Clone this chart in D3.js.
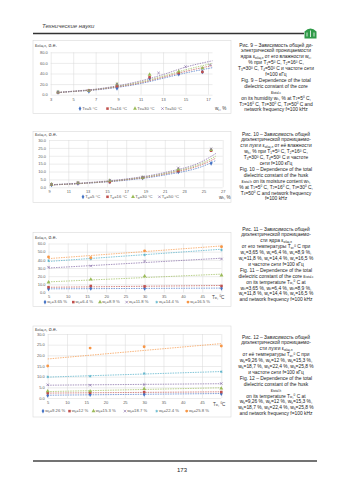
<!DOCTYPE html>
<html>
<head>
<meta charset="utf-8">
<style>
    body { margin: 0; background: #fff; }
    svg { display: block; font-family: "Liberation Sans", Arial, sans-serif; }
    .axis line { stroke: #d9d9d9; stroke-width: 0.5; }
    .axis text { fill: #595959; font-size: 4px; font-family: "Liberation Sans", Arial, sans-serif; }
    .trend { fill: none; stroke-width: 0.7; stroke-dasharray: 1.5, 1; }
    .cap { font-size: 5px; fill: #222; text-anchor: middle; }
</style>
</head>
<body>
<svg id="page" width="350" height="495"></svg>

<script src="https://d3js.org/d3.v7.min.js"></script>
<script>
// Excel palette, one colour per series
const colors = ["#4472C4", "#C0504D", "#9BBB59", "#8064A2", "#4BACC6", "#F79646"]

// Fig. 9: core permittivity vs moisture wc, %
const f9Names = ["T_{w}=5 °C", "T_{w}=16 °C", "T_{w}=30 °C", "T_{w}=50 °C"]
const f9X = [3.65, 6.4, 8.9, 11.8, 14.4, 16.5]
const f9X50 = [3.65, 6.4, 8.9, 12.6, 15.0, 17.2]
const f9T5 = [4.5, 6.5, 12, 31, 39, 43]
const f9T16 = [4.5, 8, 16, 33, 41, 43]
const f9T30 = [5, 7.5, 20, 38, 44, 50]
const f9T50 = [5, 8, 20, 41, 53, 56]
const f9TrendX = [3.65, 5, 7, 9, 11, 13, 15, 17.4]
const f9TrendT5 = [4, 6, 9, 14, 21, 31, 41, 51]
const f9TrendT16 = [4, 6.2, 9.5, 15, 22.5, 33, 44, 55]
const f9TrendT30 = [4.2, 6.4, 10, 16, 24, 35, 47, 59]
const f9TrendT50 = [4.3, 6.7, 10.5, 17, 26, 38, 52, 64]
const f9XTicks = [3, 5, 7, 9, 11, 13, 15, 17]
const f9YTicks = [0, 20, 40, 60, 80]

// Fig. 10: husk permittivity vs moisture wh, %
const f10Names = ["T_{w}=5 °C", "T_{w}=16 °C", "T_{w}=30 °C", "T_{w}=50 °C"]
const f10X = [9.26, 12, 15.3, 18.7, 22.4, 25.8]
const f10T5 = [1.5, 2.5, 3.5, 6.0, 9.8, 15.2]
const f10T16 = [1.8, 2.7, 3.3, 6.0, 10.3, 23.2]
const f10T30 = [1.9, 2.8, 4.3, 6.2, 11.4, 23.8]
const f10T50 = [2.0, 2.9, 4.5, 6.6, 12.3, 24.4]
const f10TrendX = [9.26, 13, 17, 21, 25, 26.3]
const f10TrendT5 = [1.5, 2.6, 4.5, 7.8, 13.5, 17]
const f10TrendT16 = [1.5, 2.7, 4.8, 8.4, 14.8, 18.5]
const f10TrendT30 = [1.6, 2.8, 5.0, 8.8, 15.7, 19.8]
const f10TrendT50 = [1.7, 3.0, 5.3, 9.4, 16.8, 21.5]
const f10XTicks = [9, 11, 13, 15, 17, 19, 21, 23, 25, 27]
const f10YTicks = [0, 5, 10, 15, 20, 25, 30]

// Fig. 11: core permittivity vs temperature
const f11Names = ["w_{c}=3.65 %", "w_{c}=6.4 %", "w_{c}=8.9 %", "w_{c}=11.8 %", "w_{c}=14.4 %", "w_{c}=16.5 %"]
const f11T = [5, 16, 30, 50]
const f11W365 = [4.5, 5, 5, 5.2]
const f11W64 = [6.5, 8, 7.5, 8]
const f11W89 = [12.5, 16, 20, 21]
const f11W118 = [31, 32.5, 38.5, 41]
const f11W144 = [39, 41, 46, 52]
const f11W165 = [43.5, 42.5, 51, 56]
const f11TrendT = [5, 50]
const f11Trend365 = [4.5, 5.4]
const f11Trend64 = [6.4, 8.6]
const f11Trend89 = [13, 22.5]
const f11Trend118 = [30, 42]
const f11Trend144 = [38, 53]
const f11Trend165 = [41.5, 57]
const f11XTicks = [5, 10, 15, 20, 25, 30, 35, 40, 45, 50]
const f11YTicks = [0, 10, 20, 30, 40, 50, 60]

// Fig. 12: husk permittivity vs temperature
const f12Names = ["w_{h}=9.26 %", "w_{h}=12 %", "w_{h}=15.3 %", "w_{h}=18.7 %", "w_{h}=22.4 %", "w_{h}=25.8 %"]
const f12T = [5, 16, 30, 50]
const f12W926 = [1.2, 1.6, 1.7, 2.0]
const f12W12 = [2.3, 2.5, 2.8, 2.8]
const f12W153 = [3.2, 3.2, 4.3, 4.5]
const f12W187 = [6.2, 6.0, 6.3, 6.8]
const f12W224 = [9.9, 10.2, 11.5, 12.3]
const f12W258 = [15, 23.4, 24, 24.4]
const f12TrendT = [5, 50]
const f12Trend926 = [1.3, 2.1]
const f12Trend12 = [2.3, 2.9]
const f12Trend153 = [3.0, 4.8]
const f12Trend187 = [6.0, 6.7]
const f12Trend224 = [9.8, 12.4]
const f12Trend258 = [18.3, 25.5]
const f12XTicks = [5, 10, 15, 20, 25, 30, 35, 40, 45, 50]
const f12YTicks = [0, 5, 10, 15, 20, 25, 30]

// captions
const cap9 = [
    "Рис. 9 – Зависимость общей ди-",
    "электрической проницаемости",
    "ядра ε_{общ.я} от его влажности w_{с},",
    "% при T_{1}=5^{0} C, T_{2}=16^{0} C,",
    "T_{3}=30^{0} C, T_{4}=50^{0} C и частоте сети",
    "f=100 кГц",
    "Fig. 9 – Dependence of the total",
    "dielectric constant of the core",
    "ε_{total.c}",
    "on its humidity w_{c}, % at T_{1}=5^{0} C,",
    "T_{2}=16^{0} C, T_{3}=30^{0} C, T_{4}=50^{0} C and",
    "network frequency f=100 kHz"
]
const cap10 = [
    "Рис. 10 – Зависимость общей",
    "диэлектрической проницаемо-",
    "сти лузги ε_{общ.л} от её влажности",
    "w_{h}, % при T_{1}=5^{0} C, T_{2}=16^{0} C,",
    "T_{3}=30^{0} C, T_{4}=50^{0} C и частоте",
    "сети f=100 кГц",
    "Fig. 10 – Dependence of the total",
    "dielectric constant of the husk",
    "ε_{total.h} on its moisture content w_{h},",
    "% at T_{1}=5^{0} C, T_{2}=16^{0} C, T_{3}=30^{0} C,",
    "T_{4}=50^{0} C and network frequency",
    "f=100 kHz"
]
const cap11 = [
    "Рис. 11 – Зависимость общей",
    "диэлектрической проницаемо-",
    "сти ядра ε_{общ.я}",
    "от его температуры T_{w},^{0} C при",
    "w_{c}=3,65 %, w_{c}=6,4 %, w_{c}=8,9 %,",
    "w_{c}=11,8 %, w_{c}=14,4 %, w_{c}=16,5 %",
    "и частоте сети f=100 кГц",
    "Fig. 11 – Dependence of the total",
    "dielectric constant of the core ε_{total.c}",
    "on its temperature T_{w},^{0} C at",
    "w_{c}=3,65 %, w_{c}=6,4 %, w_{c}=8,9 %,",
    "w_{c}=11,8 %, w_{c}=14,4 %, w_{c}=16,5 %",
    "and network frequency f=100 kHz"
]
const cap12 = [
    "Рис. 12 – Зависимость общей",
    "диэлектрической проницаемо-",
    "сти лузги ε_{общ.л}",
    "от её температуры T_{w},^{0} C при",
    "w_{h}=9,26 %, w_{h}=12 %, w_{h}=15,3 %,",
    "w_{h}=18,7 %, w_{h}=22,4 %, w_{h}=25,8 %",
    "и частоте сети f=100 кГц",
    "Fig. 12 – Dependence of the total",
    "dielectric constant of the husk",
    "ε_{total.h}",
    "on its temperature T_{w},^{0} C at",
    "w_{h}=9,26 %, w_{h}=12 %, w_{h}=15,3 %,",
    "w_{h}=18,7 %, w_{h}=22,4 %, w_{h}=25,8 %",
    "and network frequency f=100 kHz"
]

let svg = d3.select("#page")

// text with _{sub} and ^{sup} parts, shifts kept small so lines do not collide
function rich(text, str, fs) {
    let shift = 0
    str.split(/(_\{[^}]*\}|\^\{[^}]*\})/).forEach(p => {
        if (!p) return
        let s = 0, t = p, f = fs
        if (p[0] == "_") { s = fs * 0.12; t = p.slice(2, -1); f = fs * 0.62 }
        if (p[0] == "^") { s = -fs * 0.3; t = p.slice(2, -1); f = fs * 0.62 }
        text.append("tspan").attr("dy", s - shift).attr("font-size", f).text(t)
        shift = s
    })
}

const symTypes = [d3.symbolDiamond, d3.symbolSquare, d3.symbolTriangle, d3.symbolX, d3.symbolAsterisk, d3.symbolCircle]
const strokeSym = [false, false, false, true, true, false]

function marker(g, i, tx, ty) {
    g.append("path")
        .attr("transform", `translate(${tx},${ty})`)
        .attr("d", d3.symbol().type(symTypes[i]).size(strokeSym[i] ? 5 : 6.5)())
        .attr("fill", strokeSym[i] ? "none" : colors[i])
        .attr("stroke", strokeSym[i] ? colors[i] : "none")
        .attr("stroke-width", 0.6)
}

function chart(c) {
    let g = svg.append("g")
    g.append("rect")
        .attr("x", 33).attr("y", c.top)
        .attr("width", 198).attr("height", c.bottom - c.top)
        .attr("fill", "none").attr("stroke", "#d9d9d9").attr("stroke-width", 0.6)

    let x = d3.scaleLinear().domain(c.xDomain).range([c.left, c.right])
    let y = d3.scaleLinear().domain(c.yDomain).range([c.plotBottom, c.plotTop])

    g.append("g").attr("class", "axis")
        .attr("transform", "translate(0," + c.plotBottom + ")")
        .call(d3.axisBottom(x).tickValues(c.xTicks)
            .tickSize(-(c.plotBottom - c.plotTop)).tickPadding(3)
            .tickFormat(d => d === c.hideTick ? "" : d))
    g.append("g").attr("class", "axis")
        .attr("transform", "translate(" + c.left + ",0)")
        .call(d3.axisLeft(y).tickValues(c.yTicks)
            .tickSize(-(c.right - c.left)).tickPadding(3)
            .tickFormat(d3.format(".1f")))
    g.selectAll(".domain").remove()

    let line = d3.line().x(d => x(d[0])).y(d => y(d[1])).curve(d3.curveMonotoneX)

    c.series.forEach((s, i) => {
        g.append("path")
            .datum(d3.zip(s.tx, s.ty))
            .attr("class", "trend")
            .attr("stroke", colors[i])
            .attr("d", line)
    })
    c.series.forEach((s, i) => {
        s.y.forEach((v, j) => marker(g, i, x(s.x[j]), y(v)))
    })

    // legend
    c.series.forEach((s, i) => {
        marker(g, i, c.legendX[i], c.legendY - 1.2)
        let t = g.append("text")
            .attr("x", c.legendX[i] + 2.2).attr("y", c.legendY)
            .attr("font-size", 4.2).attr("fill", "#595959")
        rich(t, s.name, 4.2)
    })

    let yt = g.append("text").attr("x", 35).attr("y", c.yTitle).attr("font-size", 5).attr("fill", "#404040")
    rich(yt, c.yLabel, 5)
    let xt = g.append("text").attr("x", c.xTitle[0]).attr("y", c.xTitle[1]).attr("font-size", 4.6).attr("fill", "#404040")
    rich(xt, c.xLabel, 4.6)
}

chart({
    top: 40.5, bottom: 113.5, left: 50.7, right: 212.5, plotTop: 52.3, plotBottom: 94.7,
    xDomain: [3, 17.4], yDomain: [0, 80], xTicks: f9XTicks, yTicks: f9YTicks,
    series: [
        { name: f9Names[0], x: f9X, y: f9T5, tx: f9TrendX, ty: f9TrendT5 },
        { name: f9Names[1], x: f9X, y: f9T16, tx: f9TrendX, ty: f9TrendT16 },
        { name: f9Names[2], x: f9X, y: f9T30, tx: f9TrendX, ty: f9TrendT30 },
        { name: f9Names[3], x: f9X50, y: f9T50, tx: f9TrendX, ty: f9TrendT50 }
    ],
    legendX: [80, 107.5, 135, 162.5], legendY: 109.8,
    yLabel: "ε_{общ.я}, о.е.", yTitle: 46.5,
    xLabel: "w_{с}, %", xTitle: [215, 110.3]
})

chart({
    top: 131.5, bottom: 202.5, left: 49, right: 222.7, plotTop: 140, plotBottom: 187.3,
    xDomain: [9, 27], yDomain: [0, 30], xTicks: f10XTicks, yTicks: f10YTicks,
    series: [
        { name: f10Names[0], x: f10X, y: f10T5, tx: f10TrendX, ty: f10TrendT5 },
        { name: f10Names[1], x: f10X, y: f10T16, tx: f10TrendX, ty: f10TrendT16 },
        { name: f10Names[2], x: f10X, y: f10T30, tx: f10TrendX, ty: f10TrendT30 },
        { name: f10Names[3], x: f10X, y: f10T50, tx: f10TrendX, ty: f10TrendT50 }
    ],
    legendX: [83, 107.5, 133, 159.5], legendY: 198,
    yLabel: "ε_{общ.л}, о.е.", yTitle: 135.5,
    xLabel: "w_{h}, %", xTitle: [219, 198.5]
})

chart({
    top: 232.5, bottom: 306.5, left: 48.5, right: 221.5, plotTop: 243.5, plotBottom: 292.5,
    xDomain: [5, 50], yDomain: [0, 60], xTicks: f11XTicks, yTicks: f11YTicks, hideTick: 50,
    series: [
        { name: f11Names[0], x: f11T, y: f11W365, tx: f11TrendT, ty: f11Trend365 },
        { name: f11Names[1], x: f11T, y: f11W64, tx: f11TrendT, ty: f11Trend64 },
        { name: f11Names[2], x: f11T, y: f11W89, tx: f11TrendT, ty: f11Trend89 },
        { name: f11Names[3], x: f11T, y: f11W118, tx: f11TrendT, ty: f11Trend118 },
        { name: f11Names[4], x: f11T, y: f11W144, tx: f11TrendT, ty: f11Trend144 },
        { name: f11Names[5], x: f11T, y: f11W165, tx: f11TrendT, ty: f11Trend165 }
    ],
    legendX: [45, 73.3, 100, 126.7, 156.7, 188], legendY: 303.3,
    yLabel: "ε_{общ.я}, о.е.", yTitle: 238.5,
    xLabel: "T_{w}, ^{0}C", xTitle: [212, 298.5]
})

chart({
    top: 326, bottom: 417, left: 47.7, right: 221.3, plotTop: 334, plotBottom: 398,
    xDomain: [5, 50], yDomain: [0, 30], xTicks: f12XTicks, yTicks: f12YTicks, hideTick: 50,
    series: [
        { name: f12Names[0], x: f12T, y: f12W926, tx: f12TrendT, ty: f12Trend926 },
        { name: f12Names[1], x: f12T, y: f12W12, tx: f12TrendT, ty: f12Trend12 },
        { name: f12Names[2], x: f12T, y: f12W153, tx: f12TrendT, ty: f12Trend153 },
        { name: f12Names[3], x: f12T, y: f12W187, tx: f12TrendT, ty: f12Trend187 },
        { name: f12Names[4], x: f12T, y: f12W224, tx: f12TrendT, ty: f12Trend224 },
        { name: f12Names[5], x: f12T, y: f12W258, tx: f12TrendT, ty: f12Trend258 }
    ],
    legendX: [43, 69.5, 93.5, 125, 156.7, 186.7], legendY: 412.3,
    yLabel: "ε_{общ.л}, о.е.", yTitle: 330.5,
    xLabel: "T_{w}, ^{0}C", xTitle: [213, 405.5]
})

// captions in the right column
function caption(lines, y0) {
    lines.forEach((l, i) => {
        let t = svg.append("text").attr("class", "cap").attr("x", 276).attr("y", y0 + i * 5.9)
        rich(t, l, 4.9)
    })
}
caption(cap9, 46.5)
caption(cap10, 135.5)
caption(cap11, 230.5)
caption(cap12, 338.5)

// page header and footer
svg.append("text").attr("x", 42).attr("y", 28)
    .attr("font-size", 6).attr("font-style", "italic").attr("fill", "#444")
    .text("Технические науки")
svg.append("line").attr("x1", 33).attr("x2", 304).attr("y1", 33.5).attr("y2", 33.5)
    .attr("stroke", "#333").attr("stroke-width", 1.6)
svg.append("path")
    .attr("d", "M304.5,38.5 L304.5,31.5 Q310.5,25.5 316.5,31.5 L316.5,38.5 Z")
    .attr("fill", "#2f9a48")
svg.append("path")
    .attr("d", "M307,36.5 L307,32.5 M310.5,37 L310.5,30.5 M314,36.5 L314,32.5")
    .attr("stroke", "#fff").attr("stroke-width", 0.8)
svg.append("line").attr("x1", 33).attr("x2", 317).attr("y1", 461).attr("y2", 461)
    .attr("stroke", "#444").attr("stroke-width", 1.6)
svg.append("text").attr("x", 182).attr("y", 471.5)
    .attr("font-size", 6).attr("text-anchor", "middle").attr("fill", "#222")
    .text("173")
</script>
</body>
</html>
